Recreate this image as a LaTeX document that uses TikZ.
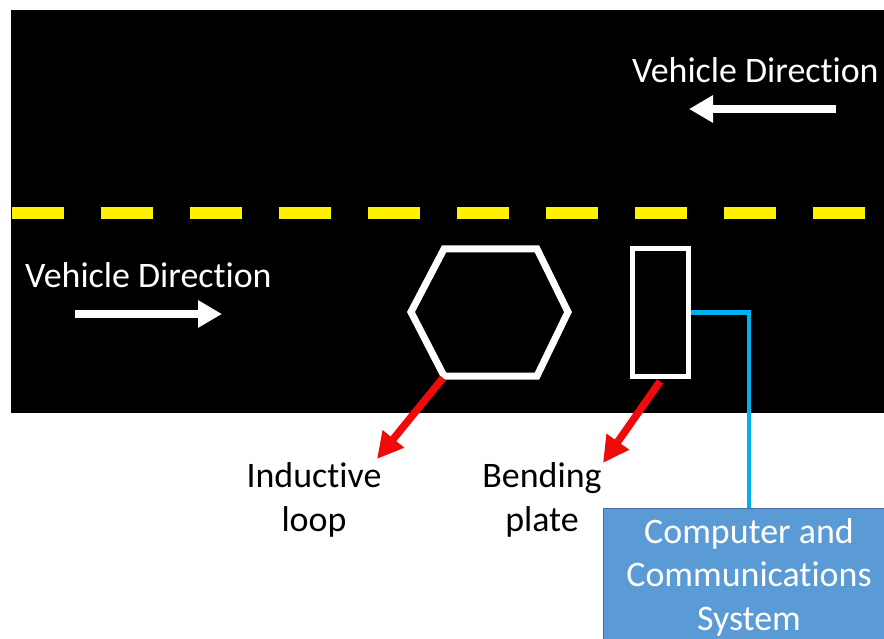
\documentclass[tikz,border=0pt]{standalone}
\usepackage{fontspec}
\setmainfont{Carlito}[Ligatures={NoCommon,NoContextual}]
\usetikzlibrary{arrows.meta}
\definecolor{lane}{RGB}{255,242,0}
\definecolor{wire}{RGB}{0,176,240}
\definecolor{boxfill}{RGB}{91,155,213}
\definecolor{boxline}{RGB}{65,113,156}
\definecolor{pointer}{RGB}{240,10,10}
\tikzset{
  x=1pt, y=-1pt,
  lbl/.style={inner sep=0pt, font=\fontsize{35.9}{43.5}\selectfont, align=center},
  dirarrow/.style={draw=white, line width=8pt, -{Triangle[length=24pt,width=26pt]}},
  redarrow/.style={draw=pointer, line width=7.5pt, -{Triangle[length=26pt,width=26pt]}},
  sensor/.style={draw=white, line width=5pt},
}
\begin{document}
\begin{tikzpicture}
\useasboundingbox (0,0) rectangle (884,639);
\begin{scope}
\clip (0,0) rectangle (884,639);

% road surface
\fill[black] (11,10) rectangle (900,413);

% centre line
\foreach \k in {0,...,9}
  \fill[lane] ({12+89*\k},207) rectangle ({64+89*\k},219);

% direction labels and arrows
\node[lbl, text=white, anchor=west] (dirtop) at (632,70) {Vehicle Direction};
\coordinate (tailtop) at (836,109);
\coordinate (headtop) at (689,109);
\draw[dirarrow] (tailtop) -- (headtop);

\node[lbl, text=white, anchor=west] (dirbot) at (25,275) {Vehicle Direction};
\coordinate (tailbot) at (75,314);
\coordinate (headbot) at (222,314);
\draw[dirarrow] (tailbot) -- (headbot);

% inductive loop
\coordinate (hexL)  at (411,312);
\coordinate (hexTL) at (444,249);
\coordinate (hexTR) at (537,249);
\coordinate (hexR)  at (568,312);
\coordinate (hexBR) at (537,376);
\coordinate (hexBL) at (444,376);
\draw[sensor, line width=7pt, line join=miter]
  (hexL) -- (hexTL) -- (hexTR) -- (hexR) -- (hexBR) -- (hexBL) -- cycle;

% bending plate
\node[sensor, minimum width=56pt, minimum height=127pt, inner sep=0pt] (plate) at (660,312.5) {};

% controller box, running off the right edge
\node[fill=boxfill, draw=boxline, line width=1pt, minimum width=340pt, minimum height=140pt,
      inner sep=0pt, anchor=north west] (box) at (603,508) {};
\node[lbl, text=white] (boxtext) at (749,577) {Computer and\\Communications\\System};
\coordinate (boxtop) at (box.north west -| boxtext);

% wire from plate to box
\draw[wire, line width=4.5pt] (plate.east) -| (boxtop);

% labels below the road
\node[lbl, text=black] (looplbl) at (314,500) {Inductive\\loop};
\node[lbl, text=black] (platelbl) at (542,500) {Bending\\plate};

\coordinate (looptip) at (377,459);
\coordinate (platetip) at (603,463);
\draw[redarrow] ([xshift=-1pt,yshift=-2pt]hexBL) -- (looptip);
\draw[redarrow] ([yshift=-3pt]plate.south) -- (platetip);
\end{scope}
\end{tikzpicture}
\end{document}
